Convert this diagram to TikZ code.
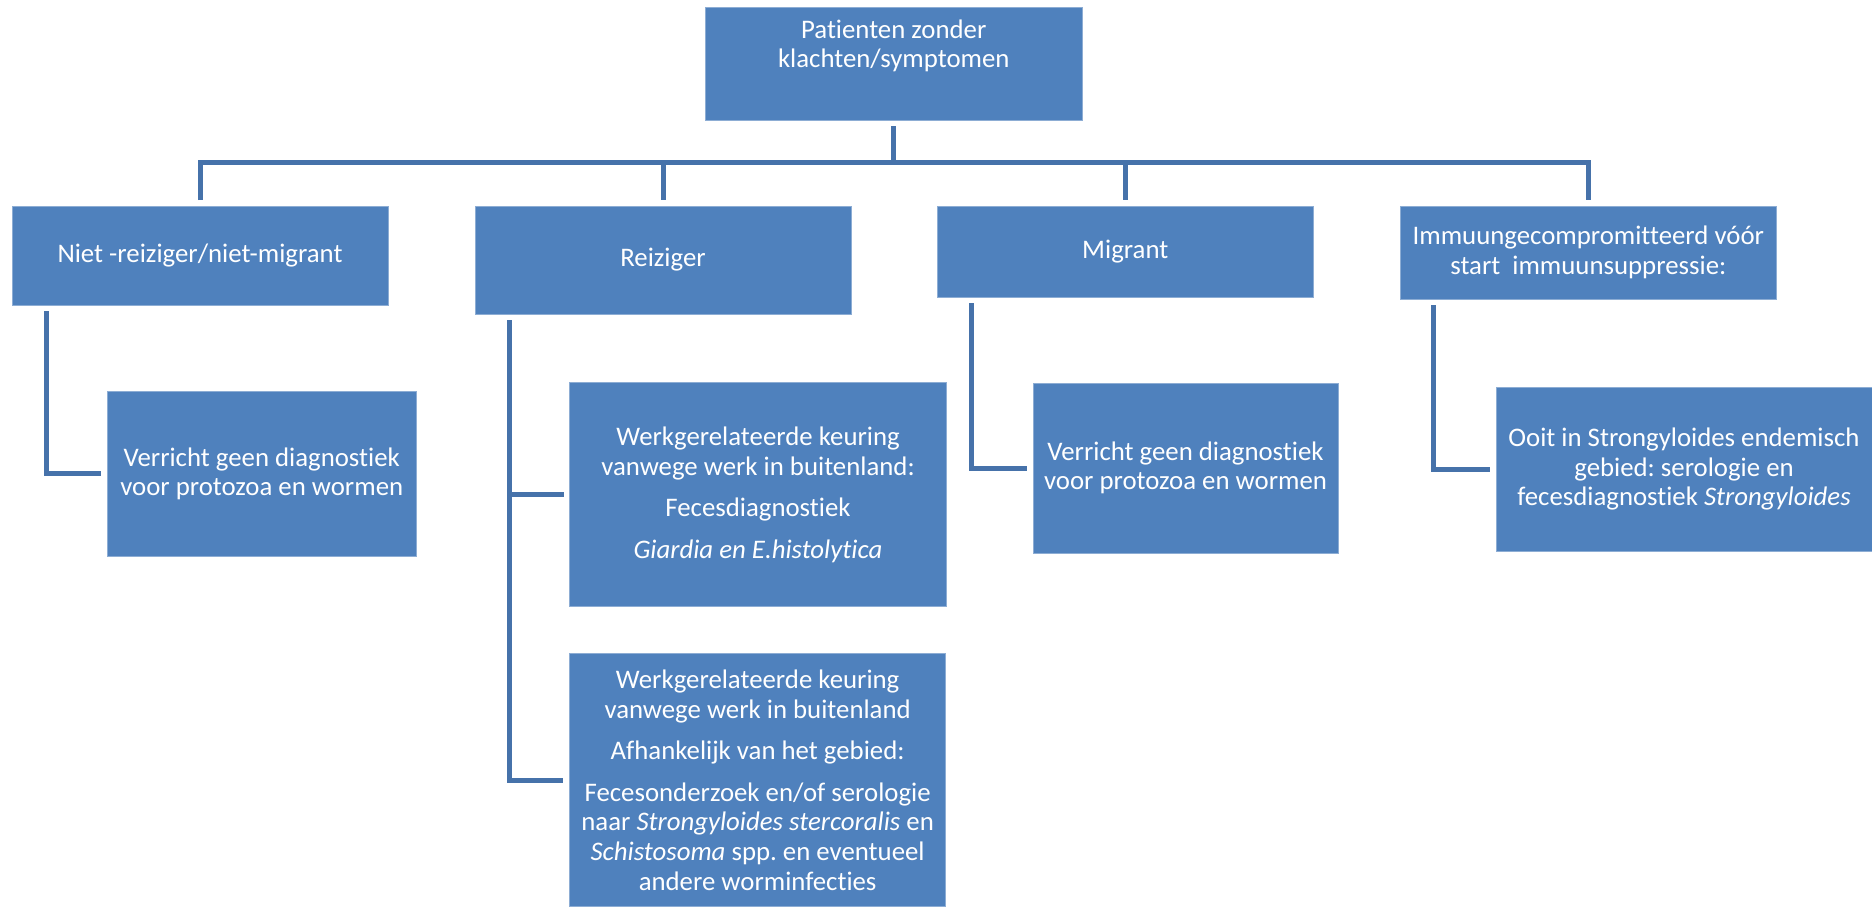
\documentclass[tikz,border=0pt]{standalone}
\usepackage{fontspec}
\setmainfont{Carlito}[Ligatures=NoCommon]
\usepackage{xcolor}
\definecolor{boxblue}{HTML}{4F81BD}
\definecolor{lineblue}{HTML}{4672AA}
\frenchspacing

\begin{document}
\begin{tikzpicture}[x=0.5pt,y=-0.5pt,
    box/.style={draw=white!35!boxblue,line width=0.5pt,fill=boxblue,text=white,align=center,inner sep=0pt,font=\fontsize{13.4}{14.8}\selectfont},
    link/.style={draw=lineblue,line width=2.5pt,shorten <=2.75pt,shorten >=2.75pt}]
    \useasboundingbox (0,0) rectangle (1872,907);
    \node[box,minimum width=188.75pt,minimum height=56.35pt] (patients) at (893.75,63.65) {Patienten zonder\\klachten/symptomen\\[5pt]\mbox{}};

    \node[box,minimum width=188pt,minimum height=49.5pt] (nontraveller) at (200,255.5) {Niet -reiziger/niet-migrant};
    \node[box,minimum width=188pt,minimum height=54pt] (traveller) at (663,260) {Reiziger};
    \node[box,minimum width=188.25pt,minimum height=45.5pt] (migrant) at (1125.25,251.5) {Migrant};
    \node[box,minimum width=188.3pt,minimum height=46.5pt] (immuno) at (1588.3,252.5) {Immuungecompromitteerd vóór\\start~ immuunsuppressie:};

    \node[box,minimum width=154.75pt,minimum height=82.85pt] (nodiag) at (261.75,473.85) {Verricht geen diagnostiek\\voor protozoa en wormen};
    \node[box,minimum width=188.5pt,minimum height=112pt] (feces) at (758,494.7) {Werkgerelateerde keuring\\vanwege werk in buitenland:\\[6pt]Fecesdiagnostiek\\[6pt]\textit{Giardia en E.histolytica}};
    \node[box,minimum width=188.35pt,minimum height=126.85pt] (area) at (757.6,780) {Werkgerelateerde keuring\\vanwege werk in buitenland\\[6pt]Afhankelijk van het gebied:\\[6pt]Fecesonderzoek en/of serologie\\naar \textit{Strongyloides stercoralis} en\\\textit{Schistosoma} spp. en eventueel\\andere worminfecties};
    \node[box,minimum width=152.5pt,minimum height=85pt] (nodiagmig) at (1185.5,468) {Verricht geen diagnostiek\\voor protozoa en wormen};
    \node[box,minimum width=188pt,minimum height=81.65pt] (strongy) at (1684,469.35) {Ooit in Strongyloides endemisch\\gebied: serologie en\\fecesdiagnostiek \textit{Strongyloides}};

    \coordinate (bar) at (893.75,162);
    \draw[link,shorten >=0pt] (patients.south) -- (bar);
    \draw[link] (nontraveller.north) -- (nontraveller.north |- bar) -- (immuno.north |- bar) -- (immuno.north);
    \draw[link,shorten <=0pt] (traveller.north |- bar) -- (traveller.north);
    \draw[link,shorten <=0pt] (migrant.north |- bar) -- (migrant.north);

    \draw[link] ([xshift=17.5pt]nontraveller.south west) |- (nodiag.west);
    \draw[link] ([xshift=17.5pt]traveller.south west) |- (feces.west);
    \draw[link] ([xshift=17.5pt]traveller.south west) |- (area.west);
    \draw[link] ([xshift=17.5pt]migrant.south west) |- (nodiagmig.west);
    \draw[link] ([xshift=17pt]immuno.south west) |- (strongy.west);
\end{tikzpicture}
\end{document}
